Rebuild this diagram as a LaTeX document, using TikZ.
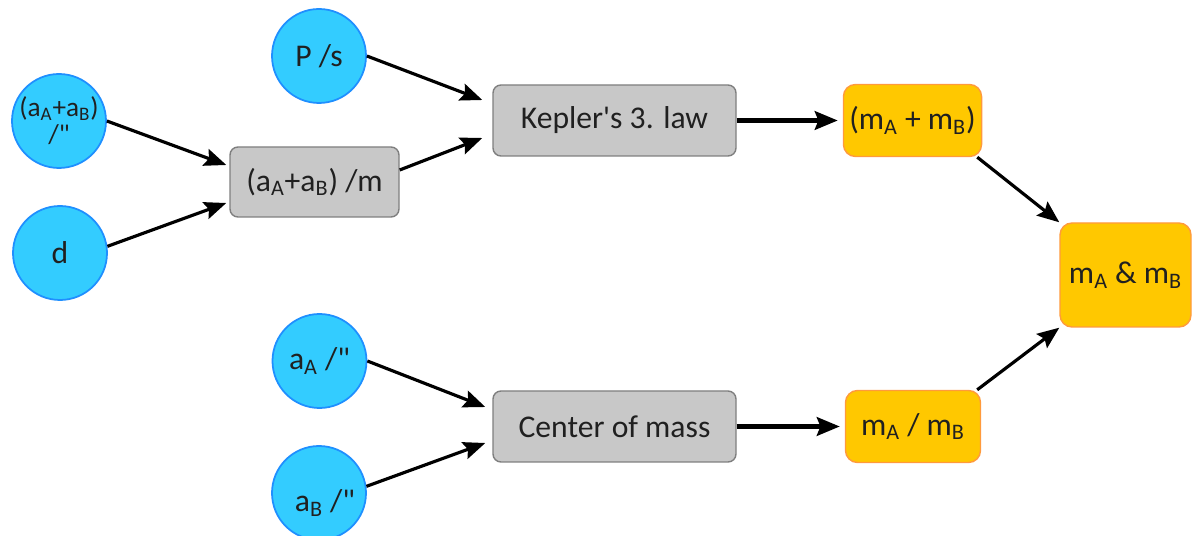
\documentclass[tikz,border=0pt]{standalone}
\usepackage{fontspec}
\setmainfont{Carlito}
\usetikzlibrary{arrows.meta}
\definecolor{skyfill}{HTML}{33CCFF}
\definecolor{skyline}{HTML}{1F8FFF}
\definecolor{boxfill}{HTML}{C8C8C8}
\definecolor{boxline}{HTML}{7F7F7F}
\definecolor{goldfill}{HTML}{FFC800}
\definecolor{goldline}{HTML}{FF9A3C}
\definecolor{inkgray}{HTML}{202020}
\begin{document}
\begin{tikzpicture}[
  every node/.style={font=\fontsize{18}{21}\selectfont, text=inkgray},
  given/.style={circle, draw=skyline, fill=skyfill, line width=1pt, minimum size=1.88cm, inner sep=0pt},
  law/.style={rectangle, rounded corners=0.16cm, draw=boxline, fill=boxfill, line width=0.8pt, minimum width=4.86cm, minimum height=1.42cm},
  result/.style={rectangle, rounded corners=0.24cm, draw=goldline, fill=goldfill, line width=0.8pt, minimum width=2.7cm, minimum height=1.44cm},
  flow/.style={-{Stealth[length=12.5pt,width=10pt,inset=2pt]}, line width=1.8pt},
  bigflow/.style={-{Stealth[length=13pt,width=10.5pt,inset=2pt]}, line width=2.6pt}
]
\useasboundingbox (0,0) rectangle (23.84,-10.72);
\node[given, align=center, font=\fontsize{15.5}{15.5}\selectfont] (sumarc) at (1.18,-2.42) {(a\textsubscript{A}+a\textsubscript{B})\\/\textquotedbl};
\node[given] (dist) at (1.2,-5.06) {d};
\node[given] (period) at (6.38,-1.12) {P /s};
\node[given] (aa) at (6.39,-7.22) {a\textsubscript{A} /\textquotedbl};
\node[given, label={[xshift=0.12cm, yshift=-0.2cm]center:a\textsubscript{B} /\textquotedbl}] (ab) at (6.38,-9.86) {};
\node[law, minimum width=3.38cm, minimum height=1.4cm] (sumau) at (6.29,-3.64) {(a\textsubscript{A}+a\textsubscript{B}) /m};
\node[law] (kepler) at (12.29,-2.41) {Kepler\textquotesingle s 3. law};
\node[law] (com) at (12.29,-8.53) {Center of mass};
\node[result] (msum) at (18.25,-2.41) {(m\textsubscript{A} + m\textsubscript{B})};
\node[result] (mratio) at (18.26,-8.53) {m\textsubscript{A} / m\textsubscript{B}};
\node[result, minimum width=2.62cm, minimum height=2.08cm] (masses) at (22.51,-5.5) {m\textsubscript{A} \& m\textsubscript{B}};
\draw[flow] (sumarc.east) -- ([xshift=-0.06cm, yshift=0.34cm]sumau.west);
\draw[flow] (dist.8) -- ([xshift=-0.06cm, yshift=-0.42cm]sumau.west);
\draw[flow] (period.east) -- ([xshift=-0.2cm, yshift=0.41cm]kepler.west);
\draw[flow] ([yshift=0.24cm]sumau.east) -- ([xshift=-0.2cm, yshift=-0.35cm]kepler.west);
\draw[flow] (aa.east) -- ([xshift=-0.14cm, yshift=0.39cm]com.west);
\draw[flow] (ab.8) -- ([xshift=-0.14cm, yshift=-0.33cm]com.west);
\draw[bigflow] (kepler) -- ([xshift=-0.1cm]msum.west);
\draw[bigflow] (com) -- ([xshift=-0.1cm]mratio.west);
\draw[flow] ([xshift=-0.1cm]msum.south east) -- (masses.north west);
\draw[flow] ([xshift=-0.08cm]mratio.north east) -- (masses.south west);
\end{tikzpicture}
\end{document}
